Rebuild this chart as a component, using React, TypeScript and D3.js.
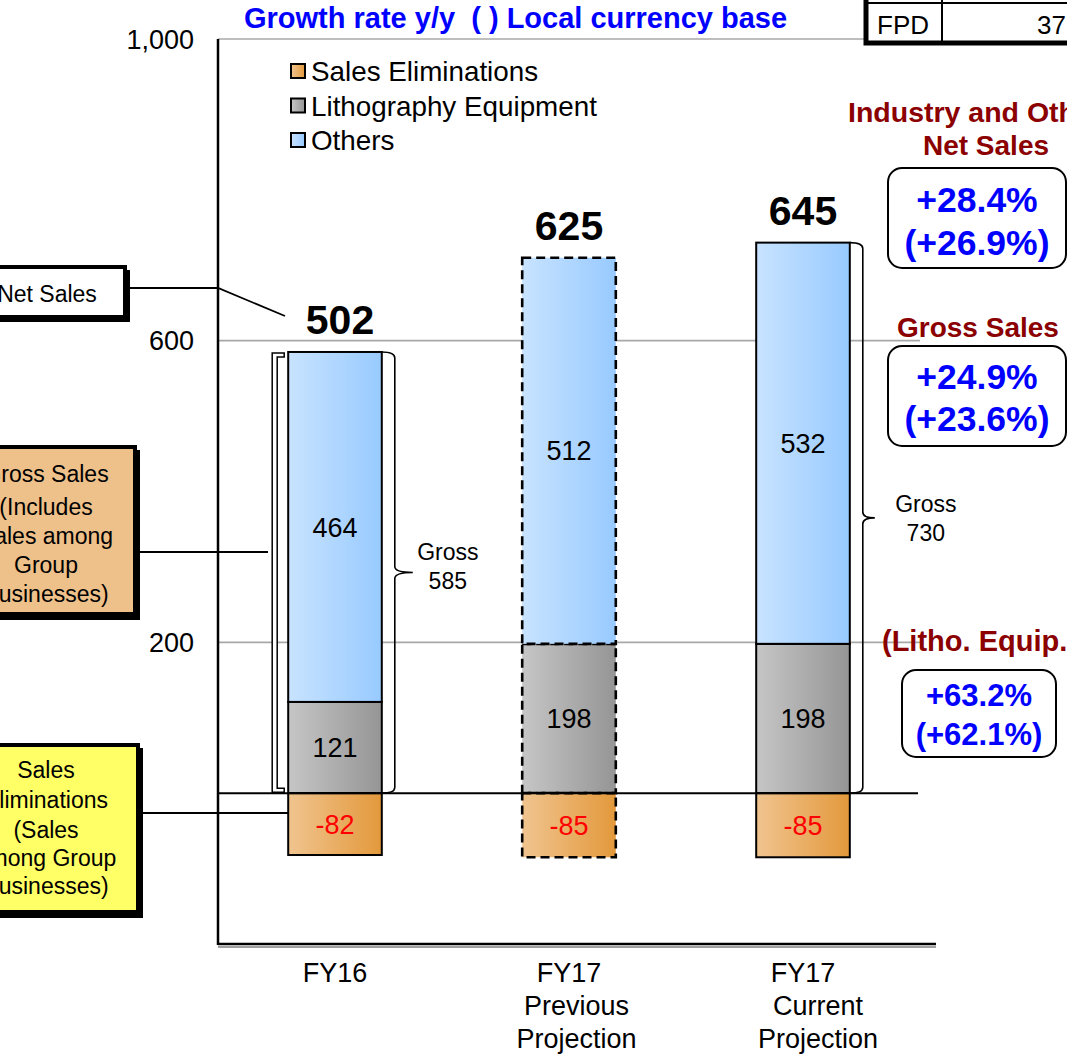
import React from "react";
import * as d3 from "d3";

// Segment data (billions of yen)
const categories = ["FY16", "FY17 Previous", "FY17 Current"];
const categoryLines = [["FY16"], ["FY17", "  Previous", "  Projection"], ["FY17", "    Current", "    Projection"]];
const lithoValues = [121, 198, 198];
const otherValues = [464, 512, 532];
const eliminationValues = [-82, -85, -85];
const netSalesValues = [502, 625, 645];
const isProjection = [false, true, false];
const yTickValues = [200, 600, 1000];

const legendItems = ["Sales Eliminations", "Lithography Equipment", "Others"];
const legendFills = ["url(#gElim)", "url(#gLitho)", "url(#gOthers)"];

const growthNet = ["+28.4%", "(+26.9%)"];
const growthGross = ["+24.9%", "(+23.6%)"];
const growthLitho = ["+63.2%", "(+62.1%)"];

const FONT = "Arial, 'Liberation Sans', Helvetica, sans-serif";
const W = 1067;
const H = 1058;

type Row = { cat: string; litho: number; others: number; elim: number };
const rows: Row[] = categories.map((c, i) => ({
  cat: c,
  litho: lithoValues[i],
  others: otherValues[i],
  elim: eliminationValues[i],
}));

const x = d3.scaleBand<string>().domain(categories).range([218, 920]).padding(0);
const y = d3.scaleLinear().domain([-200, 1000]).range([944, 39]);
const barW = x.bandwidth() * 0.4;
const cx = (c: string) => (x(c) as number) + x.bandwidth() / 2;

const stack = d3
  .stack<Row>()
  .keys(["litho", "others", "elim"])
  .offset(d3.stackOffsetDiverging);
const series = stack(rows);
const fillFor: Record<string, string> = {
  litho: "url(#gLitho)",
  others: "url(#gOthers)",
  elim: "url(#gElim)",
};

function bracePath(x0: number, y1: number, y2: number, d: number, tip: number) {
  const r = 6;
  const xv = x0 + d;
  const ym = (y1 + y2) / 2;
  return [
    `M${x0},${y1}`,
    `Q${xv},${y1} ${xv},${y1 + r}`,
    `L${xv},${ym - r}`,
    `Q${xv},${ym} ${xv + tip},${ym}`,
    `Q${xv},${ym} ${xv},${ym + r}`,
    `L${xv},${y2 - r}`,
    `Q${xv},${y2} ${x0},${y2}`,
  ].join(" ");
}

function MultiText({
  lines,
  x0,
  y0,
  lh,
  size,
  weight = "normal",
  fill = "#000",
  anchor = "middle",
}: {
  lines: string[];
  x0: number;
  y0: number;
  lh: number;
  size: number;
  weight?: string;
  fill?: string;
  anchor?: string;
}) {
  return (
    <text
      fontFamily={FONT}
      fontSize={size}
      fontWeight={weight}
      fill={fill}
      textAnchor={anchor as any}
      style={{ whiteSpace: "pre" }}
    >
      {lines.map((l, i) => (
        <tspan key={i} x={x0} y={y0 + i * lh}>
          {l}
        </tspan>
      ))}
    </text>
  );
}

export default function App() {
  const zeroY = y(0);
  const grossIdx = [
    { i: 0, tip: 18, textDx: 66, dy: -13 },
    { i: 2, tip: 12, textDx: 76, dy: -6 },
  ];
  const fy16 = categories[0];
  const fy16Top = y(lithoValues[0] + otherValues[0]);

  return (
    <svg
      width={W}
      height={H}
      viewBox={`0 0 ${W} ${H}`}
      style={{ position: "absolute", left: 0, top: 0, background: "#fff" }}
    >
      <defs>
        <linearGradient id="gOthers" x1="0" x2="1" y1="0" y2="0">
          <stop offset="0" stopColor="#C8E3FF" />
          <stop offset="1" stopColor="#98CAFF" />
        </linearGradient>
        <linearGradient id="gLitho" x1="0" x2="1" y1="0" y2="0">
          <stop offset="0" stopColor="#C6C6C6" />
          <stop offset="1" stopColor="#959595" />
        </linearGradient>
        <linearGradient id="gElim" x1="0" x2="1" y1="0" y2="0">
          <stop offset="0" stopColor="#F0C48F" />
          <stop offset="1" stopColor="#E3993C" />
        </linearGradient>
      </defs>
      <rect width={W} height={H} fill="#fff" />

      {/* gridlines */}
      {yTickValues.map((t) => (
        <line key={t} x1={218} x2={920} y1={y(t)} y2={y(t)} stroke="#A8A8A8" strokeWidth={1.6} />
      ))}

      {/* y tick labels */}
      {yTickValues.map((t) => (
        <text
          key={"l" + t}
          x={194}
          y={y(t) + 9.5}
          textAnchor="end"
          fontFamily={FONT}
          fontSize={27}
        >
          {d3.format(",")(t)}
        </text>
      ))}

      {/* title */}
      <text x={244} y={28} fontFamily={FONT} fontSize={29} fontWeight="bold" fill="#0000FF" style={{ whiteSpace: "pre" }}>
        Growth rate y/y  ( ) Local currency base
      </text>

      {/* legend */}
      {legendItems.map((s, i) => (
        <g key={s}>
          <rect x={291} y={64 + i * 34.5} width={14} height={14} fill={legendFills[i]} stroke="#000" strokeWidth={2} />
          <text x={311} y={81 + i * 34.5} fontFamily={FONT} fontSize={27.8}>
            {s}
          </text>
        </g>
      ))}

      {/* stacked bars */}
      {series.map((s) =>
        s.map((d, i) => {
          const c = rows[i].cat;
          const y0 = y(Math.max(d[0], d[1]));
          const y1 = y(Math.min(d[0], d[1]));
          return (
            <rect
              key={s.key + c}
              x={cx(c) - barW / 2}
              y={y0}
              width={barW}
              height={y1 - y0}
              fill={fillFor[s.key]}
              stroke="#000"
              strokeWidth={isProjection[i] ? 2.6 : 2}
              strokeDasharray={isProjection[i] ? "9 5" : undefined}
            />
          );
        })
      )}

      {/* zero line */}
      <line x1={218} x2={918} y1={zeroY} y2={zeroY} stroke="#000" strokeWidth={2} />

      {/* segment value labels */}
      {series.map((s) =>
        s.map((d, i) => {
          const c = rows[i].cat;
          const v = (rows[i] as any)[s.key] as number;
          return (
            <text
              key={"t" + s.key + c}
              x={cx(c)}
              y={y((d[0] + d[1]) / 2)}
              dy="0.36em"
              textAnchor="middle"
              fontFamily={FONT}
              fontSize={27}
              fill={v < 0 ? "#FF0000" : "#000"}
            >
              {v}
            </text>
          );
        })
      )}

      {/* net sales totals */}
      {categories.map((c, i) => (
        <text
          key={"n" + c}
          x={cx(c) + (i === 0 ? 5 : 0)}
          y={y(lithoValues[i] + otherValues[i]) - 18}
          textAnchor="middle"
          fontFamily={FONT}
          fontSize={41}
          fontWeight="bold"
        >
          {netSalesValues[i]}
        </text>
      ))}

      {/* gross braces */}
      {grossIdx.map(({ i, tip, textDx, dy }) => {
        const c = categories[i];
        const right = cx(c) + barW / 2;
        const top = y(lithoValues[i] + otherValues[i]);
        const mid = (top + zeroY) / 2;
        return (
          <g key={"b" + c}>
            <path d={bracePath(right, top, zeroY, 13, tip)} fill="none" stroke="#000" strokeWidth={1.6} />
            <MultiText
              lines={["Gross", String(lithoValues[i] + otherValues[i])]}
              x0={right + textDx}
              y0={mid + dy}
              lh={29}
              size={23}
            />
          </g>
        );
      })}

      {/* left bracket on FY16 */}
      {(() => {
        const l = cx(fy16) - barW / 2;
        return (
          <path
            d={`M${l - 4},${fy16Top + 1} L${l - 16},${fy16Top + 1} L${l - 16},${zeroY - 1} L${l - 4},${zeroY - 1} L${l - 4},${zeroY - 5} L${l - 11},${zeroY - 5} L${l - 11},${fy16Top + 5} L${l - 4},${fy16Top + 5} Z`}
            fill="#fff"
            stroke="#000"
            strokeWidth={1.5}
          />
        );
      })()}

      {/* axes */}
      <line x1={218} x2={936} y1={947} y2={947} stroke="#A0A0A0" strokeWidth={2} />
      <line x1={218} x2={936} y1={944} y2={944} stroke="#000" strokeWidth={2.5} />
      <line x1={218} x2={218} y1={39} y2={945} stroke="#000" strokeWidth={2.5} />

      {/* category labels */}
      {categories.map((c, i) => (
        <MultiText key={"c" + c} lines={categoryLines[i]} x0={cx(c)} y0={982} lh={33} size={27} />
      ))}

      {/* left annotation: Net Sales */}
      <rect x={-37} y={270} width={167} height={52} fill="#000" />
      <rect x={-40} y={267} width={165} height={50} fill="#fff" stroke="#000" strokeWidth={4} />
      <MultiText lines={["Net Sales"]} x0={47} y0={302} lh={0} size={23} />
      <polyline points="130,288 218,288 285,316" fill="none" stroke="#000" strokeWidth={1.8} />

      {/* left annotation: Gross Sales */}
      <rect x={-43} y={450} width={183} height={170} fill="#000" />
      <rect x={-46} y={447} width={181} height={167} fill="#EFC18A" stroke="#000" strokeWidth={4} />
      <MultiText lines={["Gross Sales"]} x0={46} y0={482} lh={0} size={23} />
      <MultiText lines={["(Includes", "Sales among", "Group", "Businesses)"]} x0={46} y0={515} lh={29} size={23} />
      <line x1={140} x2={268} y1={552} y2={552} stroke="#000" strokeWidth={1.8} />

      {/* left annotation: Sales Eliminations */}
      <rect x={-43} y={748} width={186} height={170} fill="#000" />
      <rect x={-46} y={745} width={184} height={167} fill="#FFFF66" stroke="#000" strokeWidth={4} />
      <MultiText lines={["Sales", "Eliminations"]} x0={46} y0={778} lh={30} size={23} />
      <MultiText lines={["(Sales", "among Group", "Businesses)"]} x0={46} y0={838} lh={28} size={23} />
      <line x1={143} x2={289} y1={813} y2={813} stroke="#000" strokeWidth={1.8} />

      {/* top-right table fragment */}
      <rect x={866} y={-10} width={220} height={53} fill="#fff" stroke="#000" strokeWidth={5} />
      <line x1={866} x2={1067} y1={3} y2={3} stroke="#000" strokeWidth={2} />
      <line x1={942} x2={942} y1={0} y2={43} stroke="#000" strokeWidth={2} />
      <text x={877} y={34} fontFamily={FONT} fontSize={26}>FPD</text>
      <text x={1037} y={34} fontFamily={FONT} fontSize={26}>37</text>

      {/* right-side growth annotations */}
      <text x={848} y={122} fontFamily={FONT} fontSize={28.5} fontWeight="bold" fill="#8B0000">
        Industry and Other
      </text>
      <text x={986} y={155} textAnchor="middle" fontFamily={FONT} fontSize={28} fontWeight="bold" fill="#8B0000">
        Net Sales
      </text>
      <rect x={888} y={168} width={178} height={100} rx={14} fill="#fff" stroke="#000" strokeWidth={2} />
      <MultiText lines={growthNet} x0={977} y0={212} lh={43} size={35.5} weight="bold" fill="#0000FF" />

      <text x={897} y={337} fontFamily={FONT} fontSize={28} fontWeight="bold" fill="#8B0000">
        Gross Sales
      </text>
      <rect x={888} y={346} width={178} height={100} rx={14} fill="#fff" stroke="#000" strokeWidth={2} />
      <MultiText lines={growthGross} x0={977} y0={389} lh={42} size={35.5} weight="bold" fill="#0000FF" />

      <text x={882} y={651} fontFamily={FONT} fontSize={29} fontWeight="bold" fill="#8B0000">
        (Litho. Equip.)
      </text>
      <rect x={902} y={670} width={154} height={87} rx={14} fill="#fff" stroke="#000" strokeWidth={2} />
      <MultiText lines={growthLitho} x0={979} y0={706} lh={39} size={31} weight="bold" fill="#0000FF" />
    </svg>
  );
}
